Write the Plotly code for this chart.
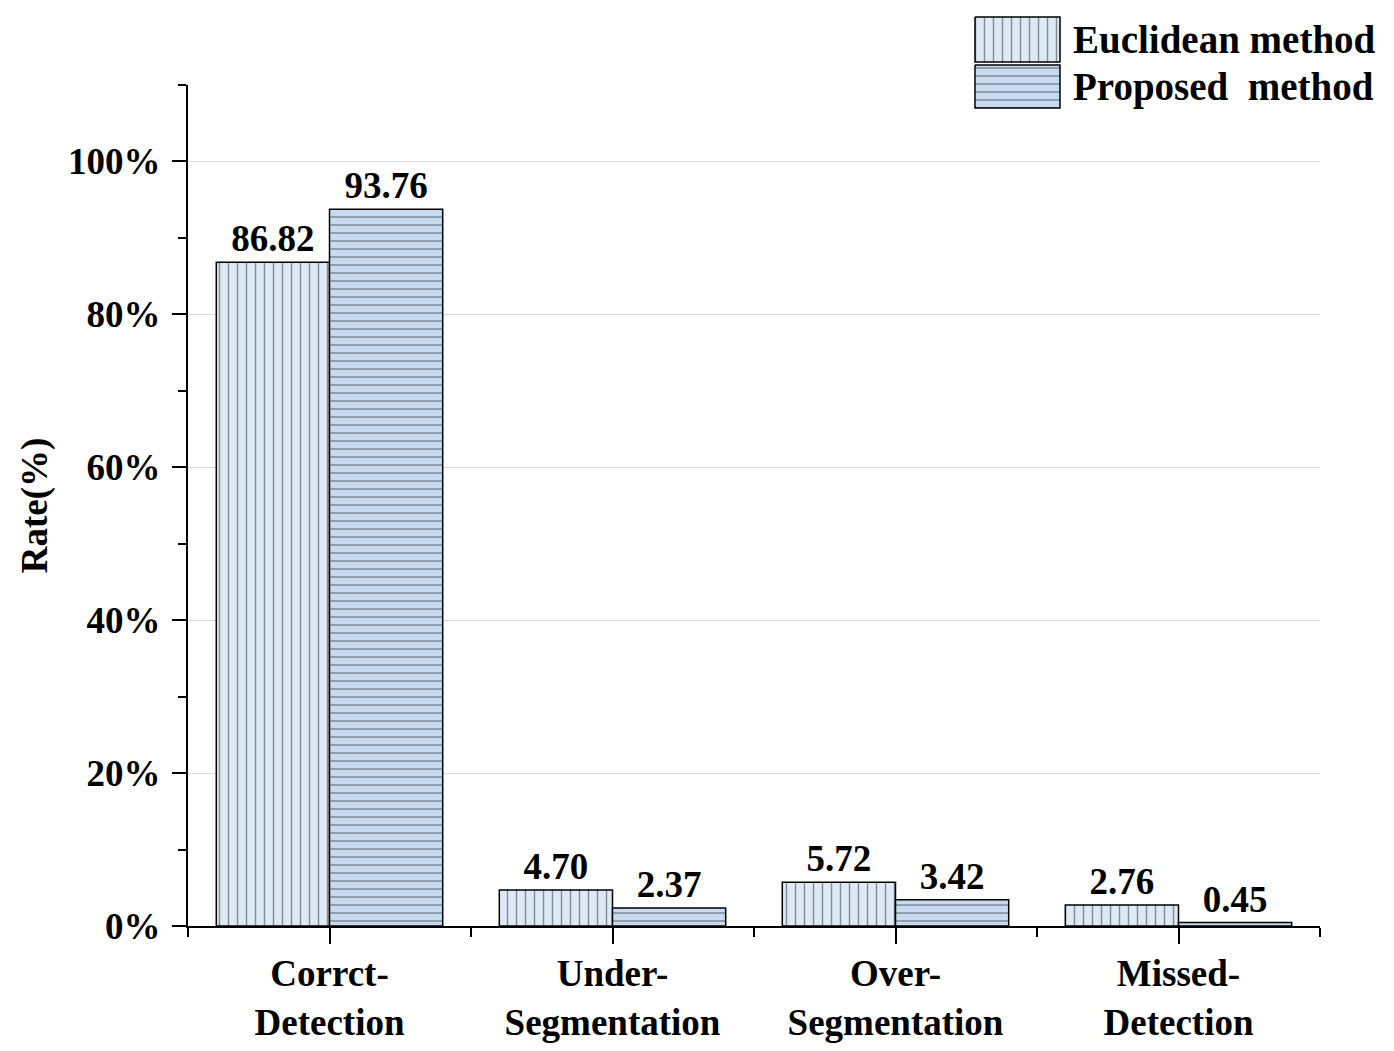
import plotly.graph_objects as go

# ---- data ----
categories = ["Corrct-<br>Detection", "Under-<br>Segmentation", "Over-<br>Segmentation", "Missed-<br>Detection"]
cat_pos = [0, 1, 2, 3]
series_names = ["Euclidean method", "Proposed  method"]
euclidean = [86.82, 4.70, 5.72, 2.76]
proposed = [93.76, 2.37, 3.42, 0.45]
y_ticks = [0, 20, 40, 60, 80, 100]

# page has an 8px body margin; figure sized to fit the window
OFF = 8
W, H = 1394 - 2 * OFF, 1051 - 2 * OFF
FONT = "Liberation Serif"
FS = 37


def px(x):
    return (x - OFF) / W


def py(y):
    return 1 - (y - OFF) / H


styles = [
    dict(shape="|", bgcolor="#dde9f5", fgcolor="#3a3f48", size=9, solidity=0.16, fgopacity=0.55),
    dict(shape="-", bgcolor="#c7daef", fgcolor="#3a3f48", size=8, solidity=0.18, fgopacity=0.55),
]

fig = go.Figure()
for name, vals, st in zip(series_names, [euclidean, proposed], styles):
    fig.add_trace(go.Bar(
        x=cat_pos, y=vals, name=name,
        marker=dict(color=st["bgcolor"], line=dict(color="black", width=1.5), pattern=st),
        text=[f"{v:.2f}" for v in vals], textposition="outside",
        textfont=dict(family=FONT, size=FS, color="black", weight="bold"),
        cliponaxis=False, showlegend=False,
    ))

# ---- custom legend (big patterned boxes) on a hidden full-page axis ----
legend_boxes = [(975, 1060, 17, 62), (975, 1060, 65, 108)]
for (x0, x1, y0, y1), name, st in zip(legend_boxes, series_names, styles):
    fig.add_trace(go.Scatter(
        x=[x0, x1, x1, x0, x0], y=[y0, y0, y1, y1, y0], mode="lines", fill="toself",
        fillcolor=st["bgcolor"], fillpattern=st, line=dict(color="black", width=1.5),
        xaxis="x2", yaxis="y2", showlegend=False, hoverinfo="skip",
    ))
    fig.add_annotation(x=1071, y=(y0 + y1) / 2, xref="x2", yref="y2", text=f"<b>{name}</b>",
                       showarrow=False, xanchor="left", yanchor="middle",
                       font=dict(family=FONT, size=39, color="black"))

fig.update_layout(
    width=W, height=H, margin=dict(l=0, r=0, t=0, b=0),
    paper_bgcolor="white", plot_bgcolor="rgba(0,0,0,0)",
    barmode="group", bargap=0.2, bargroupgap=0,
    font=dict(family=FONT, size=FS, color="black"),
    showlegend=False,
    xaxis=dict(domain=[px(188), px(1320)], range=[-0.5, 3.5], tickvals=cat_pos,
               ticktext=[f"<b>{c}</b>" for c in categories],
               ticks="outside", ticklen=16, tickwidth=2, tickcolor="black",
               minor=dict(tick0=0.5, dtick=1, ticks="outside", ticklen=9, tickwidth=2, tickcolor="black"),
               showline=True, linecolor="black", linewidth=2, showgrid=False, zeroline=False,
               ticklabelstandoff=-2, automargin=False,
               tickfont=dict(family=FONT, size=FS, color="black")),
    yaxis=dict(domain=[py(926), py(85)], range=[0, 110], tickvals=y_ticks,
               ticktext=[f"<b>{v}%</b>" for v in y_ticks],
               ticks="outside", ticklen=14, tickwidth=2, tickcolor="black",
               minor=dict(dtick=10, ticks="outside", ticklen=8, tickwidth=2, tickcolor="black", showgrid=False),
               showline=True, linecolor="black", linewidth=2, showgrid=True, gridcolor="#dadada", gridwidth=1,
               zeroline=False, ticklabelstandoff=4, automargin=False,
               tickfont=dict(family=FONT, size=FS, color="black"),
               title=dict(text="<b>Rate(%)</b>", font=dict(family=FONT, size=FS, color="black"), standoff=9)),
    xaxis2=dict(domain=[0, 1], range=[OFF, OFF + W], visible=False, anchor="y2", fixedrange=True),
    yaxis2=dict(domain=[0, 1], range=[OFF + H, OFF], visible=False, anchor="x2", fixedrange=True),
)

fig.write_html("out.html")
